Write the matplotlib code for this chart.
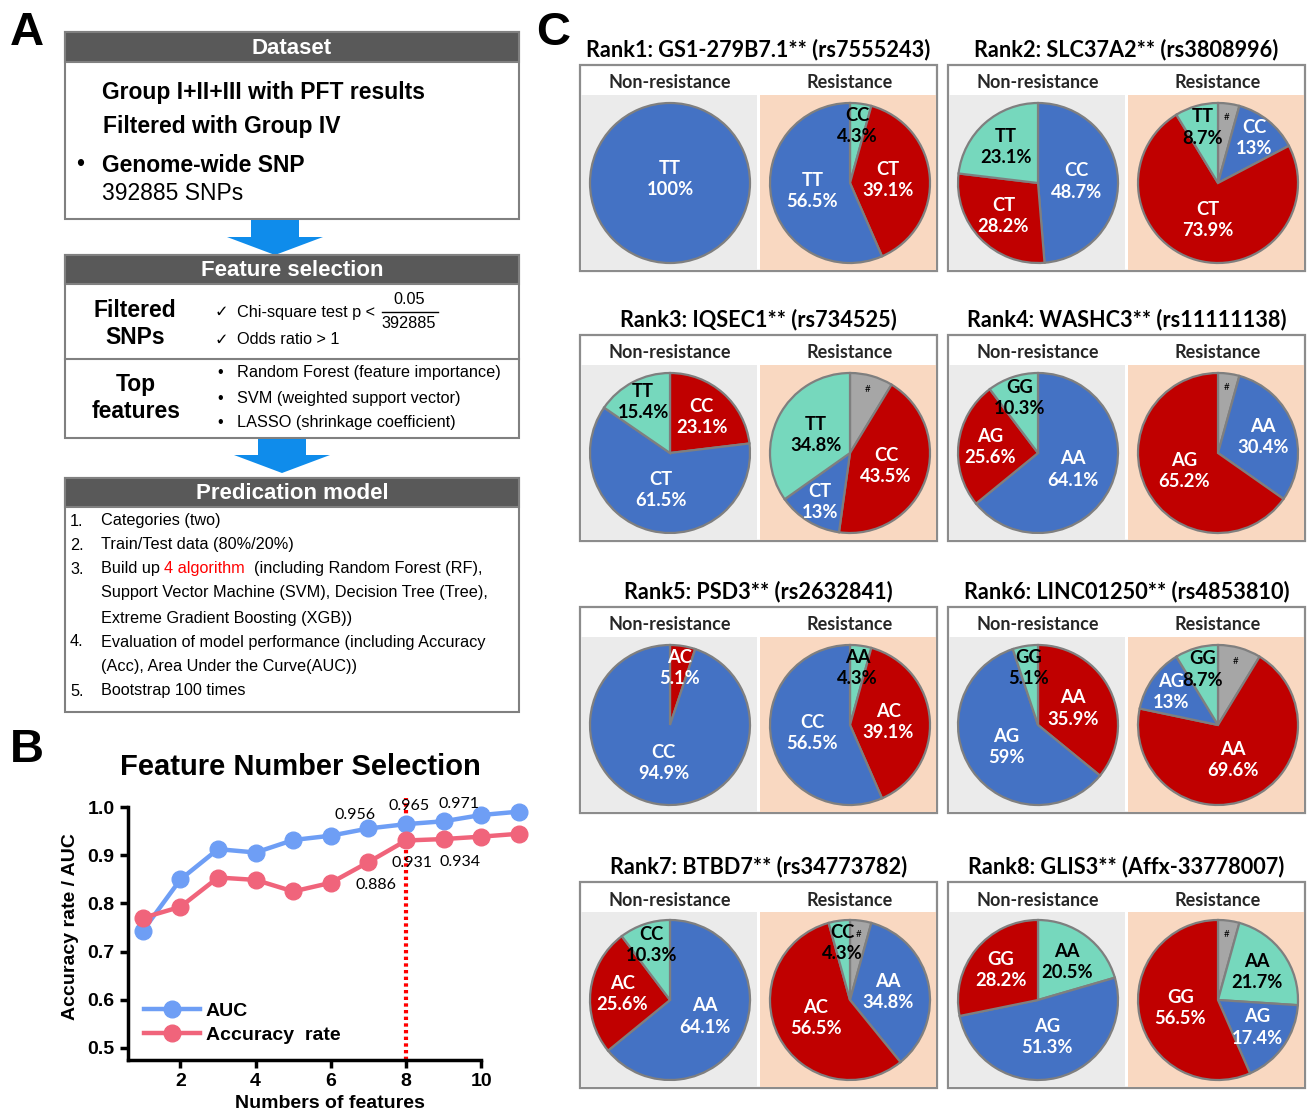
import matplotlib
matplotlib.use("Agg")
import numpy as np
import matplotlib.pyplot as plt
from matplotlib import font_manager
from matplotlib.patches import Rectangle, Polygon

W, H = 1309, 1112

# ---- data -------------------------------------------------------------
n_features = [1, 2, 3, 4, 5, 6, 7, 8, 9, 10, 11]
auc = [0.743, 0.850, 0.913, 0.906, 0.932, 0.941, 0.956, 0.965, 0.971, 0.984, 0.991]
accuracy = [0.770, 0.793, 0.854, 0.849, 0.825, 0.843, 0.886, 0.931, 0.934, 0.939, 0.945]
chosen_n = 8

rank_titles = ["Rank1: GS1-279B7.1** (rs7555243)", "Rank2: SLC37A2** (rs3808996)",
               "Rank3: IQSEC1** (rs734525)", "Rank4: WASHC3** (rs11111138)",
               "Rank5: PSD3** (rs2632841)", "Rank6: LINC01250** (rs4853810)",
               "Rank7: BTBD7** (rs34773782)", "Rank8: GLIS3** (Affx-33778007)"]
nr_genotypes = [["TT"], ["CC", "CT", "TT"], ["CC", "CT", "TT"], ["AA", "AG", "GG"],
                ["AC", "CC"], ["AA", "AG", "GG"], ["AA", "AC", "CC"], ["AA", "AG", "GG"]]
nr_values = [[100], [48.7, 28.2, 23.1], [23.1, 61.5, 15.4], [64.1, 25.6, 10.3],
             [5.1, 94.9], [35.9, 59, 5.1], [64.1, 25.6, 10.3], [20.5, 51.3, 28.2]]
r_genotypes = [["CC", "CT", "TT"], ["#", "CC", "CT", "TT"], ["#", "CC", "CT", "TT"], ["#", "AA", "AG"],
               ["AA", "AC", "CC"], ["#", "AA", "AG", "GG"], ["#", "AA", "AC", "CC"], ["#", "AA", "AG", "GG"]]
r_values = [[4.3, 39.1, 56.5], [4.3, 13, 73.9, 8.7], [8.7, 43.5, 13, 34.8], [4.3, 30.4, 65.2],
            [4.3, 39.1, 56.5], [8.7, 69.6, 13, 8.7], [4.3, 34.8, 56.5, 4.3], [4.3, 21.7, 17.4, 56.5]]

dataset_lines = ["Group I+II+III with PFT results", "Filtered with Group IV", "Genome-wide SNP", "392885 SNPs"]
top_methods = ["Random Forest (feature importance)", "SVM (weighted support vector)",
               "LASSO (shrinkage coefficient)"]
model_steps = ["Categories (two)", "Train/Test data (80%/20%)",
               "Build up |4 algorithm| (including Random Forest (RF),",
               "Support Vector Machine (SVM), Decision Tree (Tree),",
               "Extreme Gradient Boosting (XGB))",
               "Evaluation of model performance (including Accuracy",
               "(Acc), Area Under the Curve(AUC))",
               "Bootstrap 100 times"]
step_numbers = ["1.", "2.", "3.", "", "", "4.", "", "5."]

# ---- styles -----------------------------------------------------------
nr_colors = [["b"], ["b", "r", "g"], ["r", "b", "g"], ["b", "r", "g"],
             ["r", "b"], ["r", "b", "g"], ["b", "r", "g"], ["g", "b", "r"]]
r_colors = [["g", "r", "b"], ["k", "b", "r", "g"], ["k", "r", "b", "g"], ["k", "b", "r"],
            ["g", "r", "b"], ["k", "r", "b", "g"], ["k", "b", "r", "g"], ["k", "g", "b", "r"]]
palette = {"b": "#4472C4", "r": "#C00000", "g": "#76D8BD", "k": "#A6A6A6"}
ink = {"b": "white", "r": "white", "g": "black", "k": "black"}

installed = {f.name for f in font_manager.fontManager.ttflist}
ARIAL = ["Liberation Sans", "DejaVu Sans"]
if "Liberation Sans Narrow" in installed:
    NARROW, nsize = ["Liberation Sans Narrow", "DejaVu Sans"], 14
else:
    NARROW, nsize = ARIAL, 11.7
CAL = ["Lato", "DejaVu Sans"]

fig = plt.figure(figsize=(W / 100, H / 100), dpi=100)


def frac(x0, y0, x1, y1):
    return [x0 / W, 1 - y1 / H, (x1 - x0) / W, (y1 - y0) / H]


base = fig.add_axes([0, 0, 1, 1])
base.set_xlim(0, W)
base.set_ylim(H, 0)
base.axis("off")

# ---- panel A ----------------------------------------------------------
for lab, (x, y) in zip("ABC", [(27, 33), (27, 750), (553, 33)]):
    base.text(x, y, lab, fontsize=34, fontweight="bold", family=ARIAL, ha="center", va="center")

edge = "#808080"
hdr = "#595959"


def block(top, hbot, bot, title):
    base.add_patch(Rectangle((65, top), 454, bot - top, fc="white", ec=edge, lw=1.5))
    base.add_patch(Rectangle((65, top), 454, hbot - top, fc=hdr, ec=edge, lw=1.5))
    base.text(292, (top + hbot) / 2 + 1, title, color="white", fontsize=16, fontweight="bold",
              family=ARIAL, ha="center", va="center")


def arrow(cx, y0, y1, y2):
    base.add_patch(Polygon([(cx - 24, y0), (cx + 24, y0), (cx + 24, y1), (cx + 48, y1),
                            (cx, y2), (cx - 48, y1), (cx - 24, y1)], closed=True,
                           fc="#0F8CEB", ec="none"))


block(32, 62, 219, "Dataset")
base.text(102, 92, dataset_lines[0], fontsize=16.5, fontweight="bold", family=ARIAL, va="center")
base.text(103, 127, dataset_lines[1], fontsize=16.5, fontweight="bold", family=ARIAL, va="center")
base.text(76, 165, "\u2022", fontsize=16.5, family=ARIAL, va="center")
base.text(102, 165, dataset_lines[2], fontsize=16.5, fontweight="bold", family=ARIAL, va="center")
base.text(102, 194, dataset_lines[3], fontsize=16.5, family=ARIAL, va="center")

arrow(275, 220, 237, 255)
block(255, 284, 438, "Feature selection")
base.plot([65, 519], [359, 359], color=edge, lw=1.5)
base.text(135, 324, "Filtered\nSNPs", fontsize=16.5, fontweight="bold", family=ARIAL,
          ha="center", va="center", linespacing=1.25)
base.text(136, 398, "Top\nfeatures", fontsize=16.5, fontweight="bold", family=ARIAL,
          ha="center", va="center", linespacing=1.25)
base.text(215, 312, "\u2713", fontsize=nsize, family=["DejaVu Sans"], va="center")
base.text(237, 312, "Chi-square test p <", fontsize=nsize, family=NARROW, va="center")
base.text(409, 299, "0.05", fontsize=nsize, family=NARROW, ha="center", va="center")
base.plot([382, 438], [312, 312], color="black", lw=1)
base.text(409, 323, "392885", fontsize=nsize, family=NARROW, ha="center", va="center")
base.text(215, 340, "\u2713", fontsize=nsize, family=["DejaVu Sans"], va="center")
base.text(237, 340, "Odds ratio > 1", fontsize=nsize, family=NARROW, va="center")
for y, m in zip([373, 398, 423], top_methods):
    base.text(217, y, "\u2022", fontsize=nsize, family=ARIAL, va="center")
    base.text(237, y, m, fontsize=nsize, family=NARROW, va="center")

arrow(282, 439, 455, 473)
block(478, 507, 712, "Predication model")
step_y = [521, 545, 569, 593, 618, 642, 667, 691]
for y, num, s in zip(step_y, step_numbers, model_steps):
    if num:
        base.text(70, y, num, fontsize=nsize, family=NARROW, va="center")
    parts = s.split("|")
    t = base.text(101, y, parts[0], fontsize=nsize, family=NARROW, va="center")
    if len(parts) > 1:
        t2 = base.annotate(parts[1], xy=(1, 0), xycoords=t, fontsize=nsize, family=NARROW,
                           color="#FF0000", va="bottom")
        base.annotate(" " + parts[2], xy=(1, 0), xycoords=t2, fontsize=nsize, family=NARROW,
                      va="bottom")

# ---- panel B ----------------------------------------------------------
base.text(300, 767, "Feature Number Selection", fontsize=21, fontweight="bold", family=ARIAL,
          ha="center", va="center")
ax = fig.add_axes(frac(127.8, 792.9, 532, 1059.7))
ax.set_xlim(0.6, 11.35)
ax.set_ylim(0.475, 1.03)
blue_c, pink_c = "#6E9EF5", "#F0647B"
ax.plot(n_features, auc, "-o", color=blue_c, lw=3.2, ms=12, label="AUC", zorder=3)
ax.plot(n_features, accuracy, "-o", color=pink_c, lw=3.2, ms=12, label="Accuracy  rate", zorder=3)
ax.plot([chosen_n, chosen_n], [0.475, 1.02], color="#FF0000", lw=3, ls=(0, (0.8, 0.8)), zorder=2)
for i, dx, dy in [(6, -0.35, 0.028), (7, 0.07, 0.038), (8, 0.4, 0.035)]:
    ax.text(n_features[i] + dx, auc[i] + dy, f"{auc[i]:.3f}", fontsize=11.5, family=CAL,
            ha="center", va="center", zorder=4)
for i, dx, dy in [(6, 0.21, -0.048), (7, 0.17, -0.046), (8, 0.43, -0.047)]:
    ax.text(n_features[i] + dx, accuracy[i] + dy, f"{accuracy[i]:.3f}", fontsize=11.5, family=CAL,
            ha="center", va="center", zorder=4)
for s in ["top", "right"]:
    ax.spines[s].set_visible(False)
ax.spines["left"].set_linewidth(2.5)
ax.spines["bottom"].set_linewidth(2.5)
ax.spines["left"].set_bounds(0.475, 1.0)
ax.spines["bottom"].set_bounds(0.6, 10)
ax.set_xticks([2, 4, 6, 8, 10])
ax.set_yticks([0.5, 0.6, 0.7, 0.8, 0.9, 1.0])
ax.set_yticklabels([f"{v:.1f}" for v in ax.get_yticks()])
ax.tick_params(width=2.5, length=6, labelsize=14)
for lbl in ax.get_xticklabels() + ax.get_yticklabels():
    lbl.set_fontweight("bold")
    lbl.set_family(ARIAL)
ax.set_xlabel("Numbers of features", fontsize=14, fontweight="bold", family=ARIAL, labelpad=4)
ax.set_ylabel("Accuracy rate / AUC", fontsize=14, fontweight="bold", family=ARIAL, labelpad=6)
ax.legend(loc="lower left", bbox_to_anchor=(0.02, 0.03), frameon=False, borderaxespad=0,
          handlelength=2.9, handletextpad=0.3, labelspacing=0.35,
          prop={"family": ARIAL, "weight": "bold", "size": 14})
ax.set_facecolor("none")

# ---- panel C ----------------------------------------------------------
col_x = [580, 948]
row_top = [65, 335, 607, 882]
box_w, box_h, head_h, rad = 357, 206, 30, 80


def draw_pie(cx, cy, vals, gts, cols):
    pa = fig.add_axes(frac(cx - rad - 2, cy - rad - 2, cx + rad + 2, cy + rad + 2))
    wedges, _ = pa.pie(vals, colors=[palette[c] for c in cols], startangle=90, counterclock=False,
                       radius=1, wedgeprops={"edgecolor": "#7F7F7F", "linewidth": 1.6})
    pa.set_xlim(-1.025, 1.025)
    pa.set_ylim(-1.025, 1.025)
    for w, v, g, c in zip(wedges, vals, gts, cols):
        mid = np.deg2rad((w.theta1 + w.theta2) / 2)
        if v >= 99.9:
            x, y = 0, 0.05
        else:
            if g == "#":
                r = 0.82
            elif v < 16:
                r = 0.72
            elif v < 31:
                r = 0.6
            else:
                r = 0.48
            x, y = r * np.cos(mid), r * np.sin(mid)
        if g == "#":
            pa.text(x, y, "#", fontsize=7, ha="center", va="center", family=CAL, color=ink[c])
        else:
            pa.text(x, y, f"{g}\n{v:g}%", fontsize=13.2, fontweight="bold", ha="center", va="center",
                    family=CAL, color=ink[c], linespacing=1.3)


for k in range(8):
    x0 = col_x[k % 2]
    top = row_top[k // 2]
    base.text(x0 + box_w / 2, top - 15, rank_titles[k], fontsize=15.6, fontweight="bold",
              family=CAL, ha="center", va="center")
    base.add_patch(Rectangle((x0, top), box_w, box_h, fc="white", ec="#8C8C8C", lw=1.6))
    base.add_patch(Rectangle((x0 + 1, top + head_h), 176, box_h - head_h - 1, fc="#EBEBEB", ec="none"))
    base.add_patch(Rectangle((x0 + 180, top + head_h), box_w - 181, box_h - head_h - 1,
                             fc="#F9D8C1", ec="none"))
    base.text(x0 + 90, top + 18, "Non-resistance", fontsize=13, fontweight="bold", family=CAL,
              ha="center", va="center", color="#262626")
    base.text(x0 + 270, top + 18, "Resistance", fontsize=13, fontweight="bold", family=CAL,
              ha="center", va="center", color="#262626")
    draw_pie(x0 + 90, top + 118, nr_values[k], nr_genotypes[k], nr_colors[k])
    draw_pie(x0 + 270, top + 118, r_values[k], r_genotypes[k], r_colors[k])

fig.savefig("out.png", dpi=100)
